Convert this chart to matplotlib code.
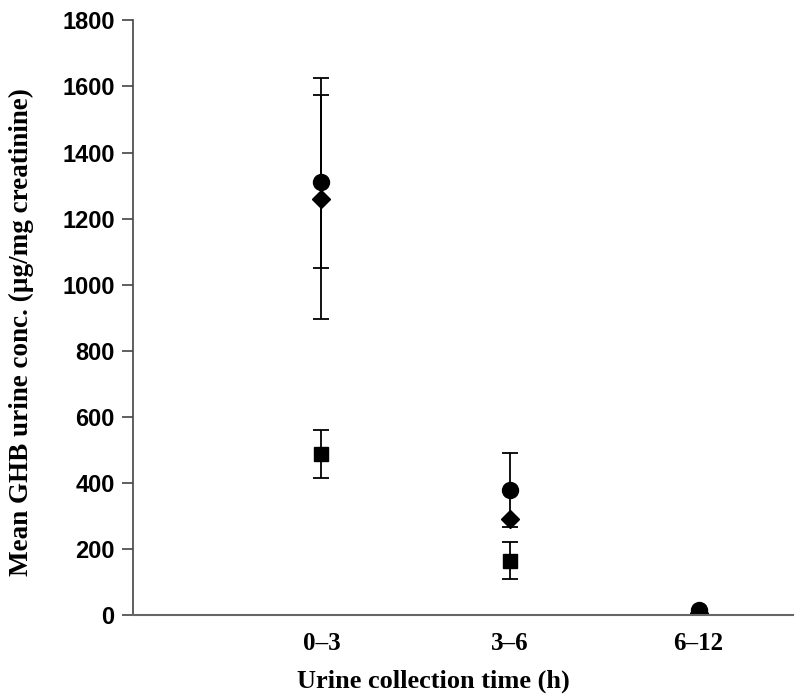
import matplotlib.pyplot as plt
import numpy as np

# urine collection intervals
categories = ['0\u20133', '3\u20136', '6\u201312']

# mean GHB urine conc. (ug/mg creatinine) and SD for the three groups
circleMean = [1312, 378, 15]
circleErr = [262, 112, 0]
diamondMean = [1260, 290, 6]
diamondErr = [365, 0, 0]
squareMean = [488, 165, 5]
squareErr = [72, 56, 0]

x = np.arange(1, len(categories) + 1)

fig = plt.figure(figsize=(8, 7), dpi=100)
ax = fig.add_axes([0.166, 0.121, 0.825, 0.850])

errStyle = dict(ecolor='black', elinewidth=1.3, capsize=6, capthick=1.3, linestyle='none', color='black')
ax.errorbar(x, squareMean, yerr=squareErr, marker='s', markersize=10, **errStyle)
ax.errorbar(x, diamondMean, yerr=diamondErr, marker='D', markersize=9.5, **errStyle)
ax.errorbar(x, circleMean, yerr=circleErr, marker='o', markersize=11.5, **errStyle)

ax.set_xlim(0, 3.5)
ax.set_ylim(0, 1800)
ax.set_yticks(np.arange(0, 1801, 200))
ax.set_xticks(x)
ax.set_xticklabels(categories)

for lab in ax.get_yticklabels() + ax.get_xticklabels():
    lab.set_fontweight('bold')
for lab in ax.get_yticklabels():
    lab.set_fontfamily('Liberation Sans')
    lab.set_fontsize(17)
for lab in ax.get_xticklabels():
    lab.set_fontfamily('Liberation Serif')
    lab.set_fontsize(18)

ax.tick_params(axis='y', direction='out', length=8, width=1.2, color='#444444', pad=5)
ax.tick_params(axis='x', length=0, pad=12)

ax.spines['top'].set_visible(False)
ax.spines['right'].set_visible(False)
ax.spines['left'].set_color('#444444')
ax.spines['bottom'].set_color('#666666')
ax.spines['left'].set_linewidth(1.2)
ax.spines['bottom'].set_linewidth(1.5)

ax.set_xlabel('Urine collection time (h)', fontfamily='Liberation Serif', fontweight='bold', fontsize=19)
ax.set_ylabel('Mean GHB urine conc. (\u00b5g/mg creatinine)', fontfamily='Liberation Serif', fontweight='bold', fontsize=19.5)
ax.xaxis.set_label_coords(0.456, -0.092)
ax.yaxis.set_label_coords(-0.15, 0.476)

fig.savefig('out.png', dpi=100)
